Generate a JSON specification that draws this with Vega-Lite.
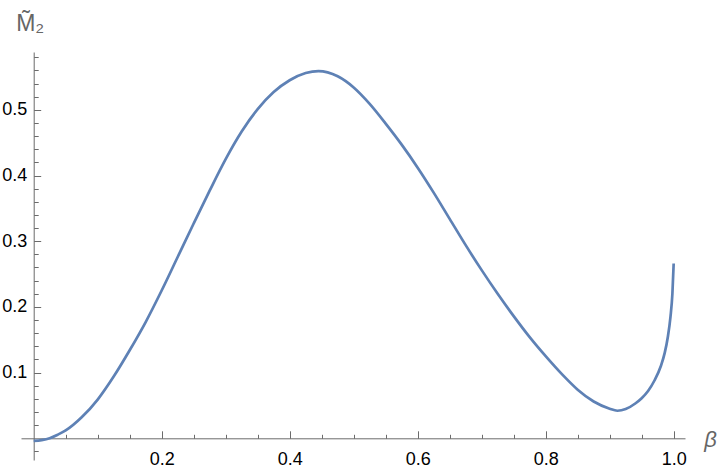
{
  "$schema": "https://vega.github.io/schema/vega-lite/v6.json",
  "width": 664,
  "height": 408,
  "autosize": {"type": "none"},
  "padding": {"left": 21, "top": 52, "right": 35, "bottom": 14},
  "background": "white",
  "config": {
    "view": {"stroke": null},
    "axis": {
      "grid": false,
      "domainColor": "#6b6b6b",
      "tickColor": "#6b6b6b",
      "labelColor": "#000000",
      "labelFont": "Liberation Sans",
      "labelFontSize": 18,
      "titleFont": "Liberation Sans",
      "titleColor": "#666666",
      "titleFontWeight": "normal"
    }
  },
  "data": {
    "values": [
      {"beta": 0.0, "m": -0.004},
      {"beta": 0.0125, "m": -0.0028},
      {"beta": 0.025, "m": 0.0},
      {"beta": 0.0375, "m": 0.0055},
      {"beta": 0.05, "m": 0.012},
      {"beta": 0.075, "m": 0.032},
      {"beta": 0.1, "m": 0.059},
      {"beta": 0.125, "m": 0.094},
      {"beta": 0.15, "m": 0.134},
      {"beta": 0.175, "m": 0.177},
      {"beta": 0.2, "m": 0.225},
      {"beta": 0.225, "m": 0.276},
      {"beta": 0.25, "m": 0.327},
      {"beta": 0.275, "m": 0.377},
      {"beta": 0.3, "m": 0.425},
      {"beta": 0.325, "m": 0.467},
      {"beta": 0.35, "m": 0.501},
      {"beta": 0.375, "m": 0.527},
      {"beta": 0.4, "m": 0.545},
      {"beta": 0.425, "m": 0.556},
      {"beta": 0.445, "m": 0.559},
      {"beta": 0.475, "m": 0.551},
      {"beta": 0.5, "m": 0.534},
      {"beta": 0.525, "m": 0.509},
      {"beta": 0.55, "m": 0.479},
      {"beta": 0.575, "m": 0.447},
      {"beta": 0.6, "m": 0.412},
      {"beta": 0.625, "m": 0.374},
      {"beta": 0.65, "m": 0.334},
      {"beta": 0.675, "m": 0.294},
      {"beta": 0.7, "m": 0.256},
      {"beta": 0.725, "m": 0.220},
      {"beta": 0.75, "m": 0.186},
      {"beta": 0.775, "m": 0.154},
      {"beta": 0.8, "m": 0.125},
      {"beta": 0.825, "m": 0.098},
      {"beta": 0.85, "m": 0.074},
      {"beta": 0.875, "m": 0.056},
      {"beta": 0.9, "m": 0.045},
      {"beta": 0.912, "m": 0.042},
      {"beta": 0.925, "m": 0.0445},
      {"beta": 0.94, "m": 0.053},
      {"beta": 0.95, "m": 0.061},
      {"beta": 0.96, "m": 0.072},
      {"beta": 0.97, "m": 0.088},
      {"beta": 0.98, "m": 0.110},
      {"beta": 0.986, "m": 0.130},
      {"beta": 0.991, "m": 0.155},
      {"beta": 0.995, "m": 0.185},
      {"beta": 0.998, "m": 0.220},
      {"beta": 1.0, "m": 0.266}
    ]
  },
  "layer": [
    {
      "mark": {"type": "line", "color": "#5E81B5", "strokeWidth": 2.7, "interpolate": "monotone"},
      "encoding": {
        "x": {
          "field": "beta", "type": "quantitative",
          "scale": {"domain": [-0.0198, 1.0177], "nice": false, "zero": false},
          "axis": {
            "orient": "bottom", "offset": -21.7,
            "values": [0.2, 0.4, 0.6, 0.8, 1.0], "format": ".1f",
            "tickSize": -7.5, "labelPadding": 20,
            "title": "β", "titleFontStyle": "italic", "titleFontSize": 22,
            "titleAlign": "center", "titleBaseline": "alphabetic",
            "titleX": 689, "titleY": 8, "titleAngle": 0
          }
        },
        "y": {
          "field": "m", "type": "quantitative",
          "scale": {"domain": [-0.033, 0.588], "nice": false, "zero": false},
          "axis": {
            "orient": "left", "offset": -12.7,
            "values": [0.1, 0.2, 0.3, 0.4, 0.5], "format": ".1f",
            "tickSize": -7, "labelPadding": 14,
            "title": "M̃₂", "titleFontSize": 23, "titleAngle": 0,
            "titleAlign": "left", "titleBaseline": "alphabetic",
            "titleX": -18, "titleY": -22
          }
        }
      }
    },
    {
      "mark": {"type": "line", "opacity": 0},
      "encoding": {
        "x": {
          "field": "beta", "type": "quantitative",
          "axis": {
            "orient": "bottom", "offset": -21.7, "domain": false, "labels": false, "title": null,
            "values": [0.05, 0.1, 0.15, 0.25, 0.3, 0.35, 0.45, 0.5, 0.55, 0.65, 0.7, 0.75, 0.85, 0.9, 0.95],
            "tickSize": -4
          }
        },
        "y": {
          "field": "m", "type": "quantitative",
          "axis": {
            "orient": "left", "offset": -12.7, "domain": false, "labels": false, "title": null,
            "values": [-0.02, 0.02, 0.04, 0.06, 0.08, 0.12, 0.14, 0.16, 0.18, 0.22, 0.24, 0.26, 0.28, 0.32, 0.34, 0.36, 0.38, 0.42, 0.44, 0.46, 0.48, 0.52, 0.54, 0.56, 0.58],
            "tickSize": -4.5
          }
        }
      }
    }
  ],
  "resolve": {"axis": {"x": "independent", "y": "independent"}}
}
